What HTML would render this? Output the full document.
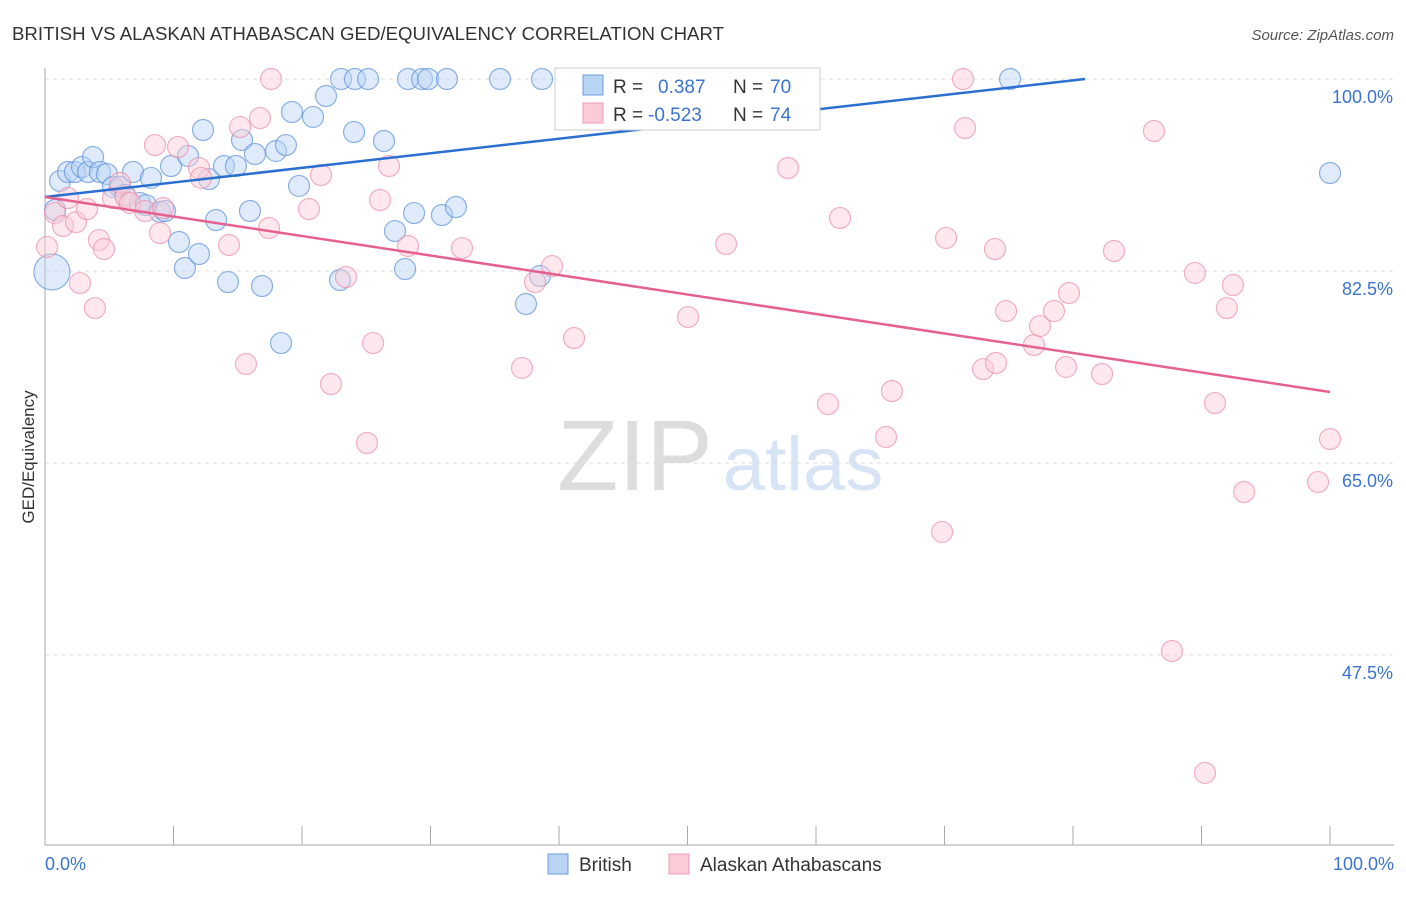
<!DOCTYPE html>
<html><head><meta charset="utf-8"><style>
body{margin:0;background:#fff;font-family:"Liberation Sans",sans-serif;}
svg text{font-family:"Liberation Sans",sans-serif;}
</style></head><body>
<svg id="chart" width="1406" height="892" xmlns="http://www.w3.org/2000/svg">
<text x="12" y="40" font-size="18" fill="#333" textLength="712" lengthAdjust="spacingAndGlyphs">BRITISH VS ALASKAN ATHABASCAN GED/EQUIVALENCY CORRELATION CHART</text>
<text x="1394" y="40" font-size="15" fill="#555" text-anchor="end" font-style="italic">Source: ZipAtlas.com</text>
<text transform="translate(34,457) rotate(-90)" font-size="17" fill="#333" text-anchor="middle">GED/Equivalency</text>
<g>
<text x="635" y="490" font-size="100" fill="#ddd" text-anchor="middle" font-family="Liberation Serif">ZIP</text>
<text x="803" y="490" font-size="76" fill="#d6e4f5" text-anchor="middle">atlas</text>
</g>
<g id="grid"></g><g id="axes"></g><g id="pts"></g><g id="lines"></g>
<g>
<rect x="555" y="68" width="265" height="62" fill="#fff" stroke="#ccc"/>
<rect x="583" y="75" width="20" height="20" fill="#b9d3f3" stroke="#6a9ee0"/>
<rect x="583" y="103" width="20" height="20" fill="#fccbd8" stroke="#ee9db4"/>
<text x="613" y="93" font-size="19" fill="#333">R =</text>
<text x="658" y="93" font-size="19" fill="#3a74d0">0.387</text>
<text x="733" y="93" font-size="19" fill="#333">N =</text>
<text x="770" y="93" font-size="19" fill="#3a74d0">70</text>
<text x="613" y="121" font-size="19" fill="#333">R =</text>
<text x="648" y="121" font-size="19" fill="#3a74d0">-0.523</text>
<text x="733" y="121" font-size="19" fill="#333">N =</text>
<text x="770" y="121" font-size="19" fill="#3a74d0">74</text>
</g>
<g>
<rect x="548" y="854" width="20" height="20" fill="#b9d3f3" stroke="#6a9ee0"/>
<text x="579" y="871" font-size="19" fill="#333">British</text>
<rect x="669" y="854" width="20" height="20" fill="#fccbd8" stroke="#ee9db4"/>
<text x="700" y="871" font-size="19" fill="#333">Alaskan Athabascans</text>
</g>
</svg>
<script>
const yTicks=[100,82.5,65,47.5];
const yTickLabels=["100.0%","82.5%","65.0%","47.5%"];
const xTickLabels=["0.0%","100.0%"];
const britishX=[.78,.54,1.17,1.79,2.33,2.88,3.35,3.74,4.28,4.82,5.29,5.84,6.23,6.85,7.39,7.86,8.25,8.95,9.34,9.81,10.43,10.89,11.13,11.98,12.30,12.76,13.31,13.93,14.24,14.86,15.33,15.95,16.34,16.89,17.98,18.37,18.75,19.22,19.77,20.86,21.87,22.96,23.04,24.05,24.12,25.14,26.38,27.24,28.02,28.25,28.72,29.34,29.81,30.89,31.28,31.98,35.41,37.43,38.52,38.68,43.19,47.47,51.91,75.10,100];
const britishY=[88.06,82.41,90.70,91.52,91.52,91.98,91.52,92.89,91.52,91.34,90.16,90.16,89.43,91.52,88.70,88.51,90.98,87.88,87.97,92.07,85.14,82.77,92.98,84.05,95.35,90.88,87.15,92.07,81.49,92.07,94.44,87.97,93.16,81.13,93.44,75.93,93.98,96.99,90.25,96.54,98.45,81.68,100,95.17,100,100,94.35,86.14,82.68,100,87.78,100,100,87.60,100,88.33,100,79.49,82.04,100,100,100,100,100,91.43];
const athX=[.16,.78,1.40,1.79,2.41,2.72,3.27,3.89,4.20,4.59,5.29,5.84,6.30,6.61,7.78,8.56,8.95,9.18,10.35,11.98,12.14,14.32,15.18,15.64,16.73,17.43,17.59,20.54,21.48,22.26,23.42,25.06,25.53,26.07,26.77,28.25,32.45,37.12,38.13,39.46,41.17,50.04,53.00,57.82,60.93,61.87,65.45,65.91,69.81,70.12,71.44,71.60,73.00,74.01,73.93,74.79,76.96,77.43,78.52,79.46,79.69,82.26,83.19,86.30,87.70,89.49,90.27,91.05,91.98,92.45,93.31,99.07,100];
const athY=[84.69,87.78,86.60,89.15,86.96,81.40,88.15,79.12,85.32,84.50,89.15,90.52,89.24,88.70,87.97,93.98,85.96,88.24,93.80,91.89,90.98,84.87,95.62,74.02,96.44,86.42,100,88.15,91.25,72.20,81.95,66.82,75.93,88.97,92.07,84.78,84.59,73.66,81.49,82.95,76.39,78.30,84.96,91.89,70.37,87.33,67.37,71.56,58.71,85.51,100,95.53,73.56,74.11,84.50,78.85,75.75,77.48,78.85,73.75,80.49,73.11,84.32,95.26,47.86,82.32,36.74,70.46,79.12,81.22,62.35,63.26,67.18];
const britishTrend=[89.24,100.0];
const britishTrendX=[0,80.93];
const athTrend=[89.24,71.47];
const athTrendX=[0,100];
const NS="http://www.w3.org/2000/svg";
const X=v=>45+v*12.85, Y=v=>79+(100-v)*10.97;
function mk(t,a,p){const e=document.createElementNS(NS,t);for(const k in a)e.setAttribute(k,a[k]);p.appendChild(e);return e;}
const grid=document.getElementById('grid'),axes=document.getElementById('axes'),pts=document.getElementById('pts'),lines=document.getElementById('lines');
yTicks.forEach((t,i)=>{
 const l=mk('line',{x1:45,x2:1394,y1:Y(t),y2:Y(t),stroke:'#ddd','stroke-dasharray':'4,4'},grid);
 
 
 const tx=mk('text',{x:1393,y:Y(t)+24,'font-size':18,fill:'#3a74d0','text-anchor':'end'},grid);
 tx.textContent=yTickLabels[i];
 
 
});
const ya=mk('line',{x1:45,x2:45,y1:68,y2:845,stroke:'#aaa'},axes);


const xa=mk('line',{x1:45,x2:1394,y1:845,y2:845,stroke:'#aaa'},axes);


for(let i=0;i<=10;i++){const t=mk('line',{x1:X(i*10),x2:X(i*10),y1:826,y2:845,stroke:'#aaa'},axes);
 
 }
[[0,'start',45],[100,'end',1394]].forEach((d,i)=>{const t=mk('text',{x:d[2],y:870,'font-size':18,fill:'#3a74d0','text-anchor':d[1]},axes);t.textContent=xTickLabels[i];
 
 });
function dots(xs,ys,fill,stroke,name){xs.forEach((x,i)=>{const r=(name==='british-point'&&i===1)?18:10.5;
 const c=mk('circle',{cx:X(x),cy:Y(ys[i]),r:r,fill:fill,'fill-opacity':0.45,stroke:stroke,'stroke-opacity':0.7,'stroke-width':1.2},pts);
 
 });}
dots(britishX,britishY,'#b9d3f3','#5b91dc','british-point');
dots(athX,athY,'#fccbd8','#ec8fab','athabascan-point');
const bl=mk('line',{x1:X(britishTrendX[0]),y1:Y(britishTrend[0]),x2:X(britishTrendX[1]),y2:Y(britishTrend[1]),stroke:'#2b6fd1','stroke-width':2.5},lines);


const al=mk('line',{x1:X(athTrendX[0]),y1:Y(athTrend[0]),x2:X(athTrendX[1]),y2:Y(athTrend[1]),stroke:'#e5628e','stroke-width':2.5},lines);


</script>
</body></html>
